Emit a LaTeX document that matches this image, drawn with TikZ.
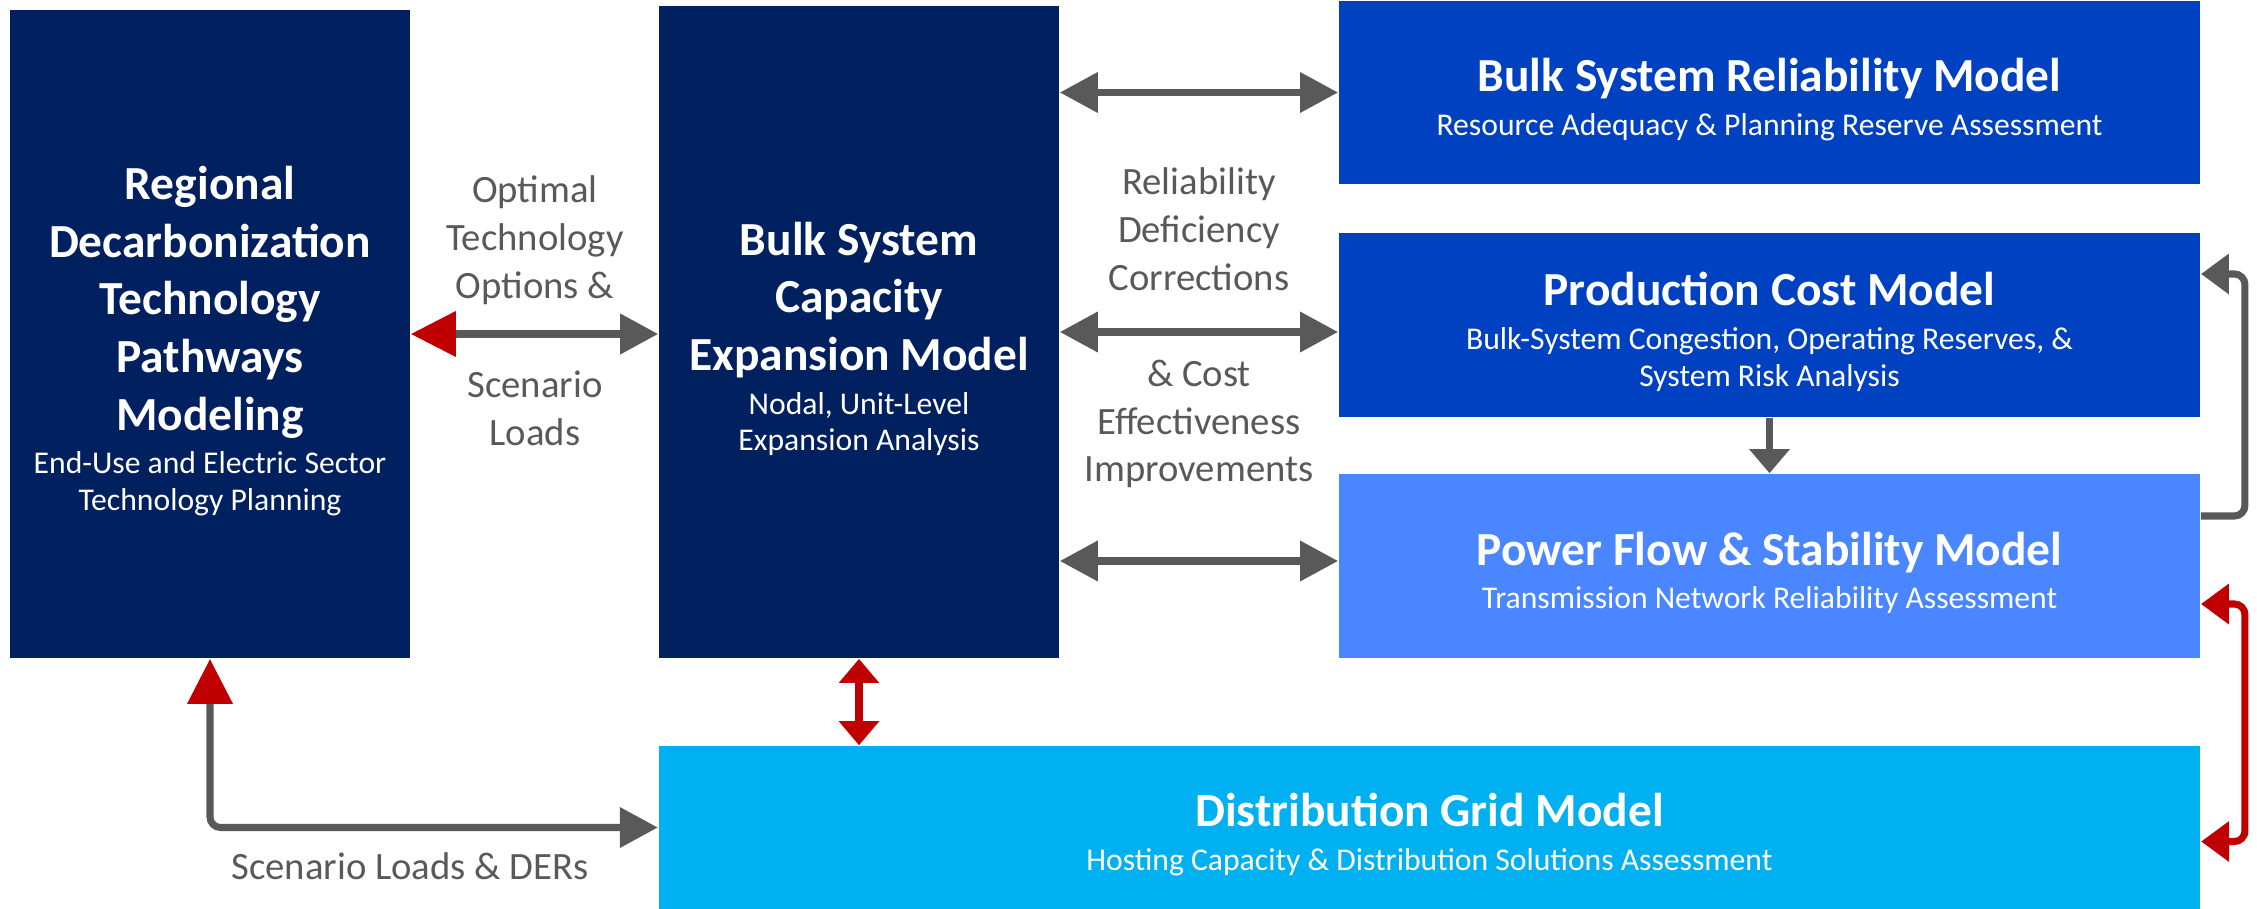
\documentclass[tikz,border=0pt]{standalone}
\usepackage{fontspec}
\setmainfont{Carlito}
\usetikzlibrary{arrows.meta,calc}

\definecolor{navy}{HTML}{002060}
\definecolor{royal}{HTML}{0041C2}
\definecolor{sky}{HTML}{4A86FF}
\definecolor{lightcyan}{HTML}{00B0F0}
\definecolor{linegray}{HTML}{595959}
\definecolor{arred}{HTML}{C00000}

\newcommand{\boxttl}{\fontsize{13.5}{16.4}\selectfont\bfseries}
\newcommand{\boxsub}{\fontsize{9}{10.4}\selectfont\mdseries}
\newcommand{\lbl}{\fontsize{11}{13.6}\selectfont}
\newcommand{\topstrut}{\rule{0pt}{13.4pt}}

\tikzset{
  model/.style={inner sep=0pt, text=white, align=flush center, font=\boxttl},
  flowlbl/.style={text=linegray, align=center, font=\lbl},
  gline/.style={draw=linegray, line width=2pt},
  rline/.style={draw=arred, line width=2pt},
  gtip/.tip={Triangle[length=0.38cm,width=0.39cm]},
  rtip/.tip={Triangle[length=0.45cm,width=0.44cm,color=arred]},
  stip/.tip={Triangle[length=0.24cm,width=0.39cm]},
  ltip/.tip={Triangle[length=0.28cm,width=0.39cm]},
}

\begin{document}
\begin{tikzpicture}[x=0.01cm,y=-0.01cm]
\useasboundingbox (0,0) rectangle (2257,909);

% model boxes
\node[model, fill=navy, text width=4cm, minimum height=6.48cm] (regional) at (210,334)
  {\topstrut Regional\\Decarbonization\\Technology\\Pathways\\Modeling\\[2pt]{\boxsub End-Use and Electric Sector\\Technology Planning\par}};
\node[model, fill=navy, text width=4cm, minimum height=6.52cm] (bulkcap) at (859,332)
  {\topstrut Bulk System\\Capacity\\Expansion Model\\[2pt]{\boxsub Nodal, Unit-Level\\Expansion Analysis\par}};
\node[model, fill=royal, text width=8.61cm, minimum height=1.83cm] (reliab) at (1769.5,92.5)
  {\topstrut Bulk System Reliability Model\\[2pt]{\boxsub Resource Adequacy \& Planning Reserve Assessment\par}};
\node[model, fill=royal, text width=8.61cm, minimum height=1.84cm] (prodcost) at (1769.5,325)
  {\topstrut Production Cost Model\\[2pt]{\boxsub Bulk-System Congestion, Operating Reserves, \&\\System Risk Analysis\par}};
\node[model, fill=sky, text width=8.61cm, minimum height=1.84cm] (powerflow) at (1769.5,566)
  {\topstrut Power Flow \& Stability Model\\[2pt]{\boxsub Transmission Network Reliability Assessment\par}};
\node[model, fill=lightcyan, text width=15.41cm, minimum height=1.63cm] (distgrid) at (1429.5,827.5)
  {\topstrut Distribution Grid Model\\[2pt]{\boxsub Hosting Capacity \& Distribution Solutions Assessment\par}};

% labels
\node[flowlbl] (optlbl) at (535,240) {Optimal\\Technology\\Options \&};
\node[flowlbl] (scnlbl) at (535,408) {Scenario\\Loads};
\node[flowlbl] (rellbl) at (1199,229) {Reliability\\Deficiency\\Corrections};
\node[flowlbl] (costlbl) at (1199,424) {\& Cost\\Effectiveness\\Improvements};
\node[flowlbl] (derlbl) at (410,866) {Scenario Loads \& DERs};

% connectors
\draw[gline, rtip-gtip] (regional.east) -- (regional.east -| bulkcap.west);
\draw[gline, gtip-gtip] (bulkcap.east |- reliab.west) -- (reliab.west);
\draw[gline, gtip-gtip] (bulkcap.east) -- (bulkcap.east -| prodcost.west);
\draw[gline, gtip-gtip] ($(bulkcap.east |- powerflow.west)+(0,-5)$) -- ($(powerflow.west)+(0,-5)$);
\draw[gline, -stip] (prodcost.south) -- (powerflow.north);
\draw[gline, -ltip, rounded corners=3pt] ($(powerflow.east)+(0,-50)$) -- ++(44,0) |- ($(prodcost.east)+(0,-51)$);
\draw[rline, ltip-ltip, rounded corners=3pt] ($(powerflow.east)+(0,38)$) -- ++(44,0) |- ($(distgrid.east)+(0,14)$);
\draw[rline, stip-stip] (bulkcap.south) -- (bulkcap.south |- distgrid.north);
\draw[gline, rtip-gtip, rounded corners=3pt] (regional.south) |- (distgrid.west);
\end{tikzpicture}
\end{document}
